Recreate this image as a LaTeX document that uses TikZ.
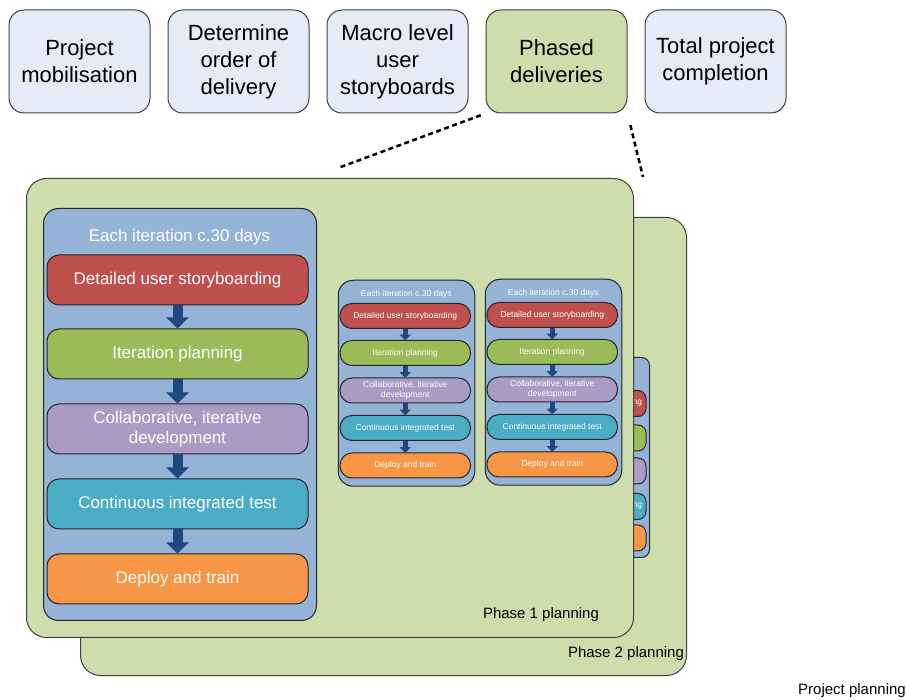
\documentclass[tikz,border=0pt]{standalone}
\usepackage{fontspec}
\setmainfont{Liberation Sans}
\usetikzlibrary{positioning,arrows.meta}

\definecolor{stageblue}{HTML}{E6ECF7}
\definecolor{phasegreen}{HTML}{CDDDAC}
\definecolor{iterblue}{HTML}{95B3D7}
\definecolor{storyred}{HTML}{C0504D}
\definecolor{plangreen}{HTML}{9BBB59}
\definecolor{devpurple}{HTML}{A99BC3}
\definecolor{testteal}{HTML}{4BACC6}
\definecolor{deployorange}{HTML}{F79646}
\definecolor{flowblue}{HTML}{1F497D}
\definecolor{edgegray}{HTML}{404040}

\tikzset{
  stage/.style={draw=edgegray, line width=1pt, rounded corners=15pt, fill=stageblue,
    minimum width=141pt, minimum height=103pt, align=center, font=\fontsize{22}{27}\selectfont},
  card/.style={draw=edgegray, line width=1pt, rounded corners=20pt, fill=phasegreen, anchor=north west},
  panel/.style={draw=black!85, line width=1pt, rounded corners=15pt, fill=iterblue,
    minimum width=273pt, minimum height=412pt, anchor=north west},
  stepbox/.style={draw=black!85, line width=1pt, rounded corners=12pt, minimum width=261pt,
    minimum height=50pt, align=center, text=white, font=\fontsize{17}{20.5}\selectfont},
  backstep/.style={draw=black!85, line width=1pt, rounded corners=8pt, minimum height=26pt,
    text width=119pt, inner xsep=4pt, align=right, text=white, font=\fontsize{8.5}{10}\selectfont},
  flow width/.store in=\flowwd, flow width=10pt,
  flowarrow/.style={draw=flowblue, line width=\flowwd, -{Triangle[width=0pt 2.2, length=0pt 1.1]}},
  callout/.style={line width=2.5pt, dash pattern=on 5pt off 3.5pt},
  label/.style={font=\fontsize{15}{18}\selectfont},
  iterpanel/.pic={
    \node[panel] (-bg) at (0,0) {};
    \node[text=white, font=\fontsize{17}{20}\selectfont] (-title) at (136.5,-29) {Each iteration c.30 days};
    \node[stepbox, fill=storyred] (-s1) at (134.5,-72) {Detailed user storyboarding};
    \node[stepbox, fill=plangreen] (-s2) at (134.5,-146) {Iteration planning};
    \node[stepbox, fill=devpurple] (-s3) at (134.5,-221) {Collaborative, iterative\\development};
    \node[stepbox, fill=testteal] (-s4) at (134.5,-296) {Continuous integrated test};
    \node[stepbox, fill=deployorange] (-s5) at (134.5,-371) {Deploy and train};
    \draw[flowarrow] (-s1.south) -- (-s2.north);
    \draw[flowarrow] (-s2.south) -- (-s3.north);
    \draw[flowarrow] (-s3.south) -- (-s4.north);
    \draw[flowarrow] (-s4.south) -- (-s5.north);
  }
}

\begin{document}
\begin{tikzpicture}[x=1pt,y=1pt]
  \useasboundingbox (0,0) rectangle (906,-700);

  % stages of the project
  \node[stage] (b1) at (79.5,-61.5) {Project\\mobilisation};
  \node[stage, right=17pt of b1] (b2) {Determine\\order of\\delivery};
  \node[stage, right=17pt of b2] (b3) {Macro level\\user\\storyboards};
  \node[stage, right=17pt of b3, fill=phasegreen] (b4) {Phased\\deliveries};
  \node[stage, right=17pt of b4] (b5) {Total project\\completion};

  \coordinate (cA) at (338,-168);
  \coordinate (cB) at (643,-177);
  \draw[callout, shorten <=5pt] (b4.south west) -- (cA);
  \draw[callout, shorten <=12pt] (b4.south east) -- (cB);

  % phase 2 card, with the iteration that shows behind phase 1
  \node[card, minimum width=606pt, minimum height=458pt] (ph2) at (80,-217) {};
  \node[panel, minimum width=132pt, minimum height=200pt, rounded corners=8pt] (back) at (517,-357) {};
  \node[backstep, fill=storyred] (back1) at (582.5,-403.5) {ng};
  \node[backstep, fill=plangreen] (back2) at (582.5,-438) {};
  \node[backstep, fill=devpurple] (back3) at (582.5,-471) {};
  \node[backstep, fill=testteal] (back4) at (582.5,-506.5) {ng};
  \node[backstep, fill=deployorange] (back5) at (582.5,-538) {};

  % phase 1 card
  \node[card, minimum width=607pt, minimum height=459pt] (ph1) at (26,-178) {};
  \pic (pBig) at (43,-208) {iterpanel};
  \pic[scale=0.5, transform shape, flow width=5pt] (pA) at (338,-280) {iterpanel};
  \pic[scale=0.5, transform shape, flow width=5pt] (pB) at (485,-279) {iterpanel};

  \node[label] (ph1lbl) at (541,-615) {Phase 1 planning};
  \node[label] (ph2lbl) at (626,-654) {Phase 2 planning};
  \node[label, anchor=east, inner sep=0pt] (projlbl) at (906,-691) {Project planning};
\end{tikzpicture}
\end{document}
